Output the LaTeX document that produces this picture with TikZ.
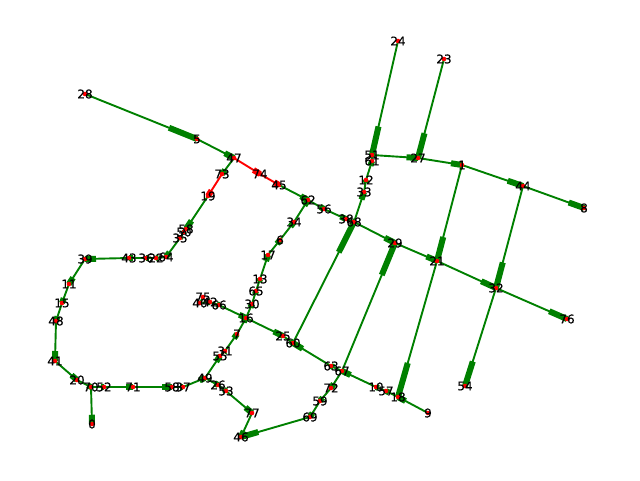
\documentclass[tikz,border=0pt]{standalone}
\usepackage{fontspec}
\setmainfont[FakeBold=0.4]{DejaVu Sans}
\usetikzlibrary{calc,backgrounds}
\definecolor{edgegreen}{RGB}{0,128,0}
\tikzset{
  vert/.style={circle,fill=red,draw=none,inner sep=0pt,minimum size=4.6pt,
    label={[vlabel]center:#1}},
  vlabel/.style={text=black,inner sep=0pt,font=\fontsize{12}{12}\selectfont},
  linkthin/.style={line width=1.9pt},
  linkhead/.style={line width=6pt},
}
\newcommand{\lnk}[3][edgegreen]{%
  \draw[linkthin,draw=#1] (n#2.center) -- (n#3.center);
  \draw[linkhead,draw=#1] ($(n#2.center)!.75!(n#3.center)$) -- (n#3.center);
}
\begin{document}
\begin{tikzpicture}[x=1pt,y=-1pt]
\useasboundingbox (0,0) rectangle (640,480);
\foreach \name/\lab/\px/\py in {
24/24/398/41, 23/23/444/59, 28/28/85/94, 5/5/197/139, 47/47/234/158, 73/73/222/174,
74/74/260/174, 45/45/279/185, 19/19/208/196, 62/62/308/200, 56/56/324/209, 34/34/294/222,
6/6/280/240, 17/17/268/255, 13/13/260/279, 65/65/256/291, 30/30/252/304, 16/16/246/318,
25/25/283/336, 60/60/293/343, 7/7/237/334, 31/31/225/351, 55/55/220/356, 49/49/205/378,
26/26/218/385, 53/53/226/391, 77/77/252/413, 46/46/241/437, 69/69/310/417, 59/59/320/401,
72/72/331/388, 63/63/331/366, 67/67/342/371, 10/10/376/387, 57/57/386/391, 18/18/398/397,
9/9/428/413, 39/39/85/259, 43/43/129/258, 36/36/146/258, 22/22/156/258, 64/64/166/257,
35/35/180/238, 50/50/184/232, 78/58/186/229, 11/11/69/284, 15/15/62/303, 48/48/56/321,
41/41/55/361, 20/20/77/380, 70/70/91/387, 52/52/104/387, 0/0/92/424, 71/71/133/387,
58/58/172/387, 37/37/183/387, 75/75/203/297, 40/40/200/303, 42/42/210/302, 66/66/219/305,
51/51/372/155, 61/61/372/161, 12/12/366/180, 33/33/364/192, 27/27/418/158, 1/1/462/165,
44/44/523/186, 8/8/584/208, 38/38/346/219, 68/68/354/222, 29/29/395/243, 21/21/437/261,
32/32/496/288, 76/76/567/319, 54/54/465/386}
{ \node[vert=\lab] (n\name) at (\px,\py) {}; }
\begin{scope}[on background layer]
\lnk{28}{5} \lnk{5}{47} \lnk{47}{73} \lnk[red]{73}{19} \lnk[red]{47}{74} \lnk[red]{74}{45}
\lnk{45}{62} \lnk{19}{78} \lnk{78}{50} \lnk{50}{35} \lnk{35}{64} \lnk{64}{22} \lnk{22}{36}
\lnk{36}{43} \lnk{43}{39} \lnk{39}{11} \lnk{11}{15} \lnk{15}{48} \lnk{48}{41} \lnk{41}{20}
\lnk{20}{70} \lnk{70}{0} \lnk{70}{52} \lnk{52}{71} \lnk{71}{58} \lnk{58}{37} \lnk{37}{49}
\lnk{49}{26} \lnk{26}{53} \lnk{53}{77} \lnk{77}{46} \lnk{69}{46} \lnk{59}{69} \lnk{72}{59}
\lnk{67}{72} \lnk{49}{55} \lnk{55}{31} \lnk{31}{7} \lnk{7}{16} \lnk{16}{30} \lnk{30}{65}
\lnk{65}{13} \lnk{13}{17} \lnk{17}{6} \lnk{6}{34} \lnk{34}{62} \lnk{62}{56} \lnk{56}{38}
\lnk{38}{68} \lnk{68}{33} \lnk{33}{12} \lnk{12}{61} \lnk{61}{51} \lnk{75}{40} \lnk{40}{42}
\lnk{42}{66} \lnk{66}{16} \lnk{16}{25} \lnk{25}{60} \lnk{63}{60} \lnk{67}{63} \lnk{10}{67}
\lnk{57}{10} \lnk{18}{57} \lnk{9}{18} \lnk{24}{51} \lnk{23}{27} \lnk{51}{27} \lnk{27}{1}
\lnk{1}{44} \lnk{44}{8} \lnk{1}{21} \lnk{21}{18} \lnk{44}{32} \lnk{32}{54} \lnk{68}{29}
\lnk{29}{21} \lnk{21}{32} \lnk{32}{76} \lnk{60}{68} \lnk{67}{29}
\end{scope}
\end{tikzpicture}
\end{document}
